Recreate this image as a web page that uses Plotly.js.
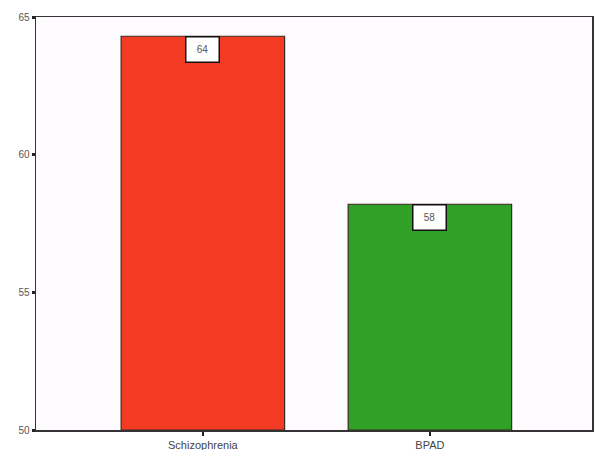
<!DOCTYPE html>
<html>
<head>
<meta charset="utf-8">
<script src="https://cdn.plot.ly/plotly-3.0.1.min.js"></script>
<style>html,body{margin:0;padding:0;background:#fff;}</style>
</head>
<body>
<div id="chart" style="width:595px;height:450px;"></div>
<script>
const categories = ["Schizophrenia", "BPAD"];
const values = [64.3, 58.2];
const valueLabels = ["64", "58"];
const barColors = ["#f23b22", "#2ea126"];
const yTicks = [50, 55, 60, 65];
const yTickLabels = ["50", "55", "60", "65"];
const baseValue = 50;

const trace = {
  type: "bar",
  x: [0, 1],
  y: values.map(v => v - baseValue),
  base: baseValue,
  width: 0.72,
  marker: { color: barColors, line: { color: "#3a2a20", width: 1.2 } },
  hoverinfo: "none"
};

const annotations = values.map((v, i) => ({
  x: i, y: v, xref: "x", yref: "y",
  text: valueLabels[i], showarrow: false,
  yanchor: "top", xanchor: "center",
  bgcolor: "#ffffff", bordercolor: "#111111", borderwidth: 1.5, borderpad: 3,
  font: { family: "Liberation Sans, Arial, sans-serif", size: 10, color: "#555" },
  width: 26, height: 18
}));

const layout = {
  width: 595, height: 450,
  margin: { l: 36, r: 3, t: 17, b: 20 },
  paper_bgcolor: "#ffffff",
  plot_bgcolor: "#fdfbfd",
  showlegend: false,
  xaxis: {
    range: [-0.735, 1.714],
    tickvals: [0, 1], ticktext: categories,
    ticks: "outside", ticklen: 4, tickwidth: 2, tickcolor: "#222",
    showline: true, linecolor: "#333", linewidth: 1.5, mirror: true,
    showgrid: false, zeroline: false,
    tickfont: { family: "Liberation Sans, Arial, sans-serif", size: 11, color: "#444" }
  },
  yaxis: {
    range: [50, 65],
    tickvals: yTicks, ticktext: yTickLabels,
    ticks: "outside", ticklen: 3, tickwidth: 3, tickcolor: "#222",
    showline: true, linecolor: "#333", linewidth: 1.5, mirror: true,
    showgrid: false, zeroline: false,
    tickfont: { family: "Liberation Sans, Arial, sans-serif", size: 10, color: "#555" }
  },
  annotations: annotations
};

Plotly.newPlot("chart", [trace], layout, { displayModeBar: false, staticPlot: true });
</script>
</body>
</html>
